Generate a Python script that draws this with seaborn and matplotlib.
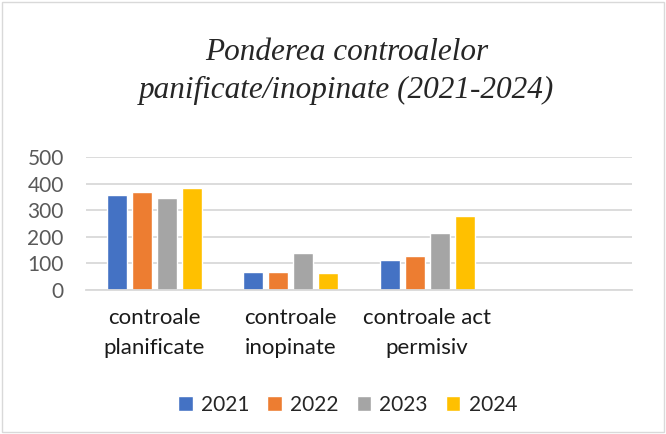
import matplotlib
matplotlib.use("Agg")
import matplotlib.pyplot as plt
import matplotlib.patches as mpatches
import pandas as pd
import seaborn as sns

categories = ["controale\nplanificate", "controale\ninopinate", "controale act\npermisiv", " "]
years = ["2021", "2022", "2023", "2024"]
v2021 = [357, 66, 113]
v2022 = [367, 68, 126]
v2023 = [345, 140, 214]
v2024 = [385, 62, 277]
colors = ["#4472C4", "#ED7D31", "#A5A5A5", "#FFC000"]

rows = []
for year, vals in zip(years, [v2021, v2022, v2023, v2024]):
    for cat, v in zip(categories[:3], vals):
        rows.append({"cat": cat, "year": year, "value": v})
df = pd.DataFrame(rows)

sns.set_style("white")
plt.rcParams["font.family"] = ["Lato", "DejaVu Sans"]

fig = plt.figure(figsize=(6.66, 4.34), dpi=100)
ax = fig.add_axes([0.129, 0.332, 0.82, 0.306])

sns.barplot(data=df, x="cat", y="value", hue="year", order=categories,
            hue_order=years, palette=colors, width=0.733, gap=0.2,
            saturation=1, ax=ax, legend=True)

ax.set_xlim(-0.5, 3.5)
ax.set_ylim(0, 500)
ax.set_yticks(range(0, 501, 100))
ax.yaxis.grid(True, color="#d9d9d9", linewidth=1.3)
ax.set_axisbelow(True)
for s in ["top", "right", "left"]:
    ax.spines[s].set_visible(False)
ax.spines["bottom"].set_color("#d9d9d9")
ax.spines["bottom"].set_linewidth(1.3)
ax.tick_params(axis="y", labelsize=15, labelcolor="#595959", length=0, pad=16)
ax.tick_params(axis="x", labelsize=16, labelcolor="#1a1a1a", length=0, pad=13)
for lbl in ax.get_xticklabels():
    lbl.set_linespacing(1.6)
ax.set_xlabel("")
ax.set_ylabel("")

handles, labels = ax.get_legend_handles_labels()
ax.legend_.remove()
fig.legend(handles, labels, loc="center", bbox_to_anchor=(0.522, 0.067), ncol=4,
           frameon=False, fontsize=15, handlelength=0.7, handleheight=0.7,
           handletextpad=0.4, columnspacing=0.85)

fig.text(0.52, 0.835, "Ponderea controalelor\npanificate/inopinate (2021-2024)",
         ha="center", va="center", fontsize=22.5, style="italic",
         family=["Liberation Serif", "DejaVu Serif"], color="#262626",
         linespacing=1.4)

fig.patches.append(mpatches.Rectangle((0.003, 0.004), 0.994, 0.992, transform=fig.transFigure,
                                      fill=False, edgecolor="#d9d9d9", linewidth=1))

fig.savefig("out.png", dpi=100)
